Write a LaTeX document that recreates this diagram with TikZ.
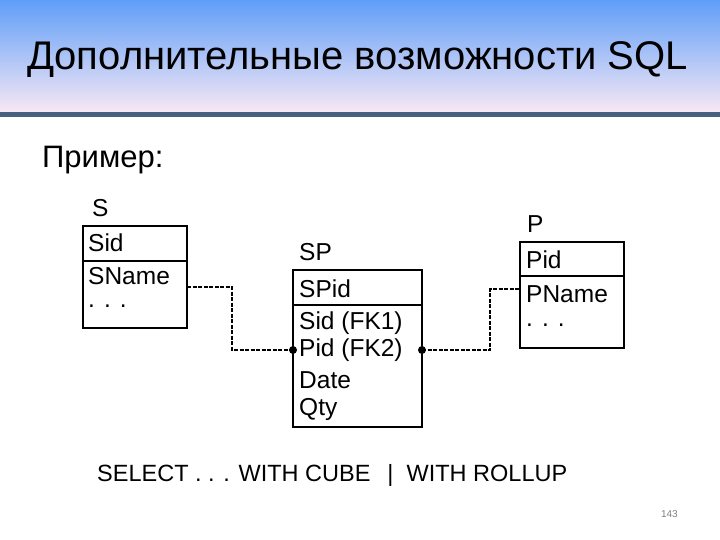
\documentclass[tikz,border=0pt]{standalone}
\usepackage{fontspec}
\setmainfont{Liberation Sans}
\definecolor{hdtop}{RGB}{95,158,248}
\definecolor{hdbot}{RGB}{248,232,245}
\definecolor{hdline}{RGB}{74,96,128}
\begin{document}
\begin{tikzpicture}[x=1pt,y=-1pt,
  fld/.style={anchor=west,inner sep=0pt,font=\fontsize{24.5}{28}\selectfont},
  tbl/.style={draw,line width=1.2pt},
  conn/.style={line width=1.5pt,dash pattern=on 4pt off 1.5pt},
  dot/.style={circle,fill,inner sep=0pt,minimum size=8pt}]
\useasboundingbox (0,0) rectangle (720,540);
\fill[white] (0,0) rectangle (720,540);
\shade[top color=hdtop,bottom color=hdbot] (0,0) rectangle (720,112);
\fill[hdline] (0,112) rectangle (720,117);
\node[anchor=west,inner sep=0pt,font=\fontsize{40}{46}\selectfont] (title) at (27,60) {Дополнительные возможности SQL};
\node[anchor=west,inner sep=0pt,font=\fontsize{31}{36}\selectfont] (ex) at (42,160) {Пример:};
% S
\draw[tbl] (83,226) rectangle (187,328);
\draw[tbl] (83,261) -- (187,261);
\node[fld] (sl) at (92,208) {S};
\node[fld] (s1) at (88,243) {Sid};
\node[fld] (s2) at (88,276) {SName};
\node[fld] (s3) at (88,306) {. . .};
% SP
\draw[tbl] (293,270) rectangle (422,427);
\draw[tbl] (293,305) -- (422,305);
\node[fld] (spl) at (299,252) {SP};
\node[fld] (sp1) at (299,289) {SPid};
\node[fld] (sp2) at (299,323) {Sid (FK1)};
\node[fld] (sp3) at (299,350) {Pid (FK2)};
\node[fld] (sp4) at (299,380) {Date};
\node[fld] (sp5) at (299,409) {Qty};
% P
\draw[tbl] (520,242) rectangle (624,348);
\draw[tbl] (520,276) -- (624,276);
\node[fld] (pl) at (527,224) {P};
\node[fld] (p1) at (526,260) {Pid};
\node[fld] (p2) at (526,294) {PName};
\node[fld] (p3) at (526,325) {. . .};
% connectors
\coordinate (a0) at (187,287);
\coordinate (a1) at (293,350);
\coordinate (b0) at (422,350);
\coordinate (b1) at (520,289);
\draw[conn] (a0) -- (232,287) -- (232,350) -- (a1);
\draw[conn] (b0) -- (490,350) -- (490,289) -- (b1);
\node[dot] (d1) at (a1) {};
\node[dot] (d2) at (b0) {};
\node[anchor=west,inner sep=0pt,font=\fontsize{23.5}{28}\selectfont] (sel) at (97,475) {SELECT . . . WITH CUBE \ \,|\ \ WITH ROLLUP};
\node[anchor=east,inner sep=0pt,text=gray,font=\fontsize{10}{12}\selectfont] (pg) at (678,514) {143};
\end{tikzpicture}
\end{document}
